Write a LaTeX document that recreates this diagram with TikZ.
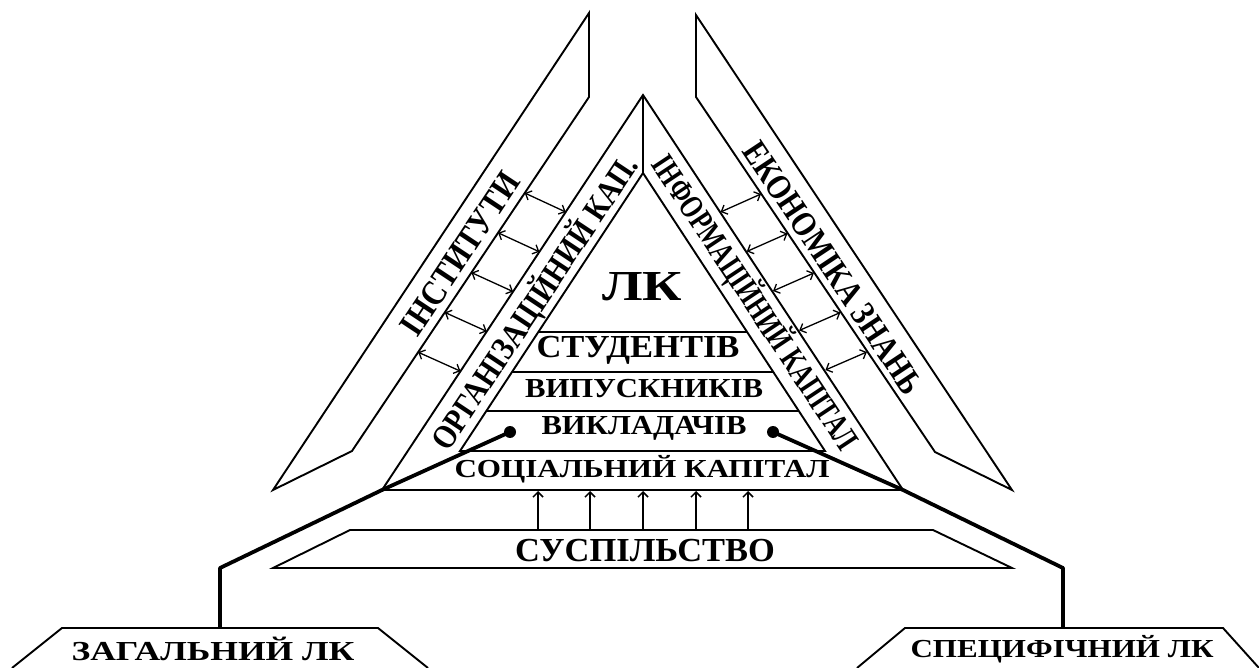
\documentclass[tikz,border=0pt]{standalone}
\usepackage{fontspec}
\setmainfont{Liberation Serif}
\usetikzlibrary{arrows.meta}
\newsavebox\fitbox
% #1 width, #2 cap height (pt number), #3 text
\newcommand\fit[3]{\sbox\fitbox{\fontsize{20}{20}\selectfont\bfseries #3}\scalebox{\fpeval{(#1)/(\the\wd\fitbox)}}[\fpeval{(#2)/13.1}]{\usebox\fitbox}}
\begin{document}
\begin{tikzpicture}[x=1pt,y=-1pt,line join=miter,
  ln/.style={line width=1.9pt},
  conn/.style={line width=3.8pt,line join=round},
  dbl/.style={line width=1.3pt,{Straight Barb[length=5pt,width=10pt]}-{Straight Barb[length=5pt,width=10pt]}},
  uparr/.style={line width=1.5pt,-{Straight Barb[length=5pt,width=10pt]}},
  lbl/.style={inner sep=0pt},
  blob/.style={circle,fill=black,inner sep=0pt,minimum size=12pt}]
\useasboundingbox (0,0) rectangle (1259,668);
% outer bands
\draw[ln] (589,13) -- (589,97) -- (352,451) -- (273,490) -- cycle;
\draw[ln] (696,15) -- (696,97) -- (935,452) -- (1012,490) -- cycle;
% central triangle
\draw[ln] (382,490) -- (643,95) -- (903,490) -- cycle;
\draw[ln] (643,95) -- (643,173);
\draw[ln] (460,451) -- (643,173) -- (825,451) -- cycle;
\draw[ln] (538,332) -- (747,332);
\draw[ln] (512,372) -- (773,372);
\draw[ln] (486,411) -- (799,411);
% society
\draw[ln] (273,568) -- (350,530) -- (933,530) -- (1012,568) -- cycle;
\foreach \x in {538,590,643,696,748}
  \draw[uparr] (\x,530) -- (\x,491);
% double arrows left
\foreach \k in {0,...,4}{
  \pgfmathsetmacro\ya{193+39.8*\k}
  \pgfmathsetmacro\yb{\ya+19}
  \draw[dbl] ({589-0.6695*(\ya-97)},\ya) -- ({643-0.6608*(\yb-95)},\yb);
}
% double arrows right
\foreach \k in {0,...,4}{
  \pgfmathsetmacro\ya{212+39.5*\k}
  \pgfmathsetmacro\yb{\ya-18}
  \draw[dbl] ({643+0.6633*(\ya-95)},\ya) -- ({696+0.67*(\yb-97)},\yb);
}
% bottom boxes
\draw[ln] (12,668) -- (62,628) -- (378,628) -- (428,668);
\draw[ln] (857,668) -- (905,628) -- (1223,628) -- (1259,668);
% texts
\node[lbl] (lk) at (642,287) {\fit{80pt}{28}{ЛК}};
\node[lbl] (stud) at (638,350) {\fit{203pt}{21}{СТУДЕНТІВ}};
\node[lbl] (vyp) at (644,389) {\fit{238pt}{18}{ВИПУСКНИКІВ}};
\node[lbl] (vykl) at (644,428) {\fit{205pt}{18}{ВИКЛАДАЧІВ}};
\node[lbl] (soc) at (642,469) {\fit{375pt}{17}{СОЦІАЛЬНИЙ КАПІТАЛ}};
\node[lbl] (susp) at (645,551) {\fit{260pt}{22}{СУСПІЛЬСТВО}};
\node[lbl] (zag) at (213,649) {\fit{283pt}{18}{ЗАГАЛЬНИЙ ЛК}};
\node[lbl] (spec) at (1062,649) {\fit{303pt}{17}{СПЕЦИФІЧНИЙ ЛК}};
\node[lbl,rotate=56.4] (inst) at (460,254) {\fit{188pt}{23}{ІНСТИТУТИ}};
\node[lbl,rotate=56.4] (org) at (535,303) {\fit{345pt}{22}{ОРГАНІЗАЦІЙНИЙ КАП.}};
\node[lbl,rotate=-56.4] (info) at (755,303) {\fit{346pt}{22}{ІНФОРМАЦІЙНИЙ КАПІТАЛ}};
\node[lbl,rotate=-56.4] (eco) at (833,268) {\fit{296pt}{23}{ЕКОНОМІКА ЗНАНЬ}};
% connectors
\node[blob] (dotL) at (510,432) {};
\node[blob] (dotR) at (773,432) {};
\coordinate (cL1) at (382,490);
\coordinate (cL2) at (220,568);
\coordinate (zagTop) at (220,628);
\coordinate (cR1) at (903,490);
\coordinate (cR2) at (1063,568);
\coordinate (specTop) at (1063,628);
\draw[conn] (dotL.center) -- (cL1) -- (cL2) -- (zagTop);
\draw[conn] (dotR.center) -- (cR1) -- (cR2) -- (specTop);
\end{tikzpicture}
\end{document}
